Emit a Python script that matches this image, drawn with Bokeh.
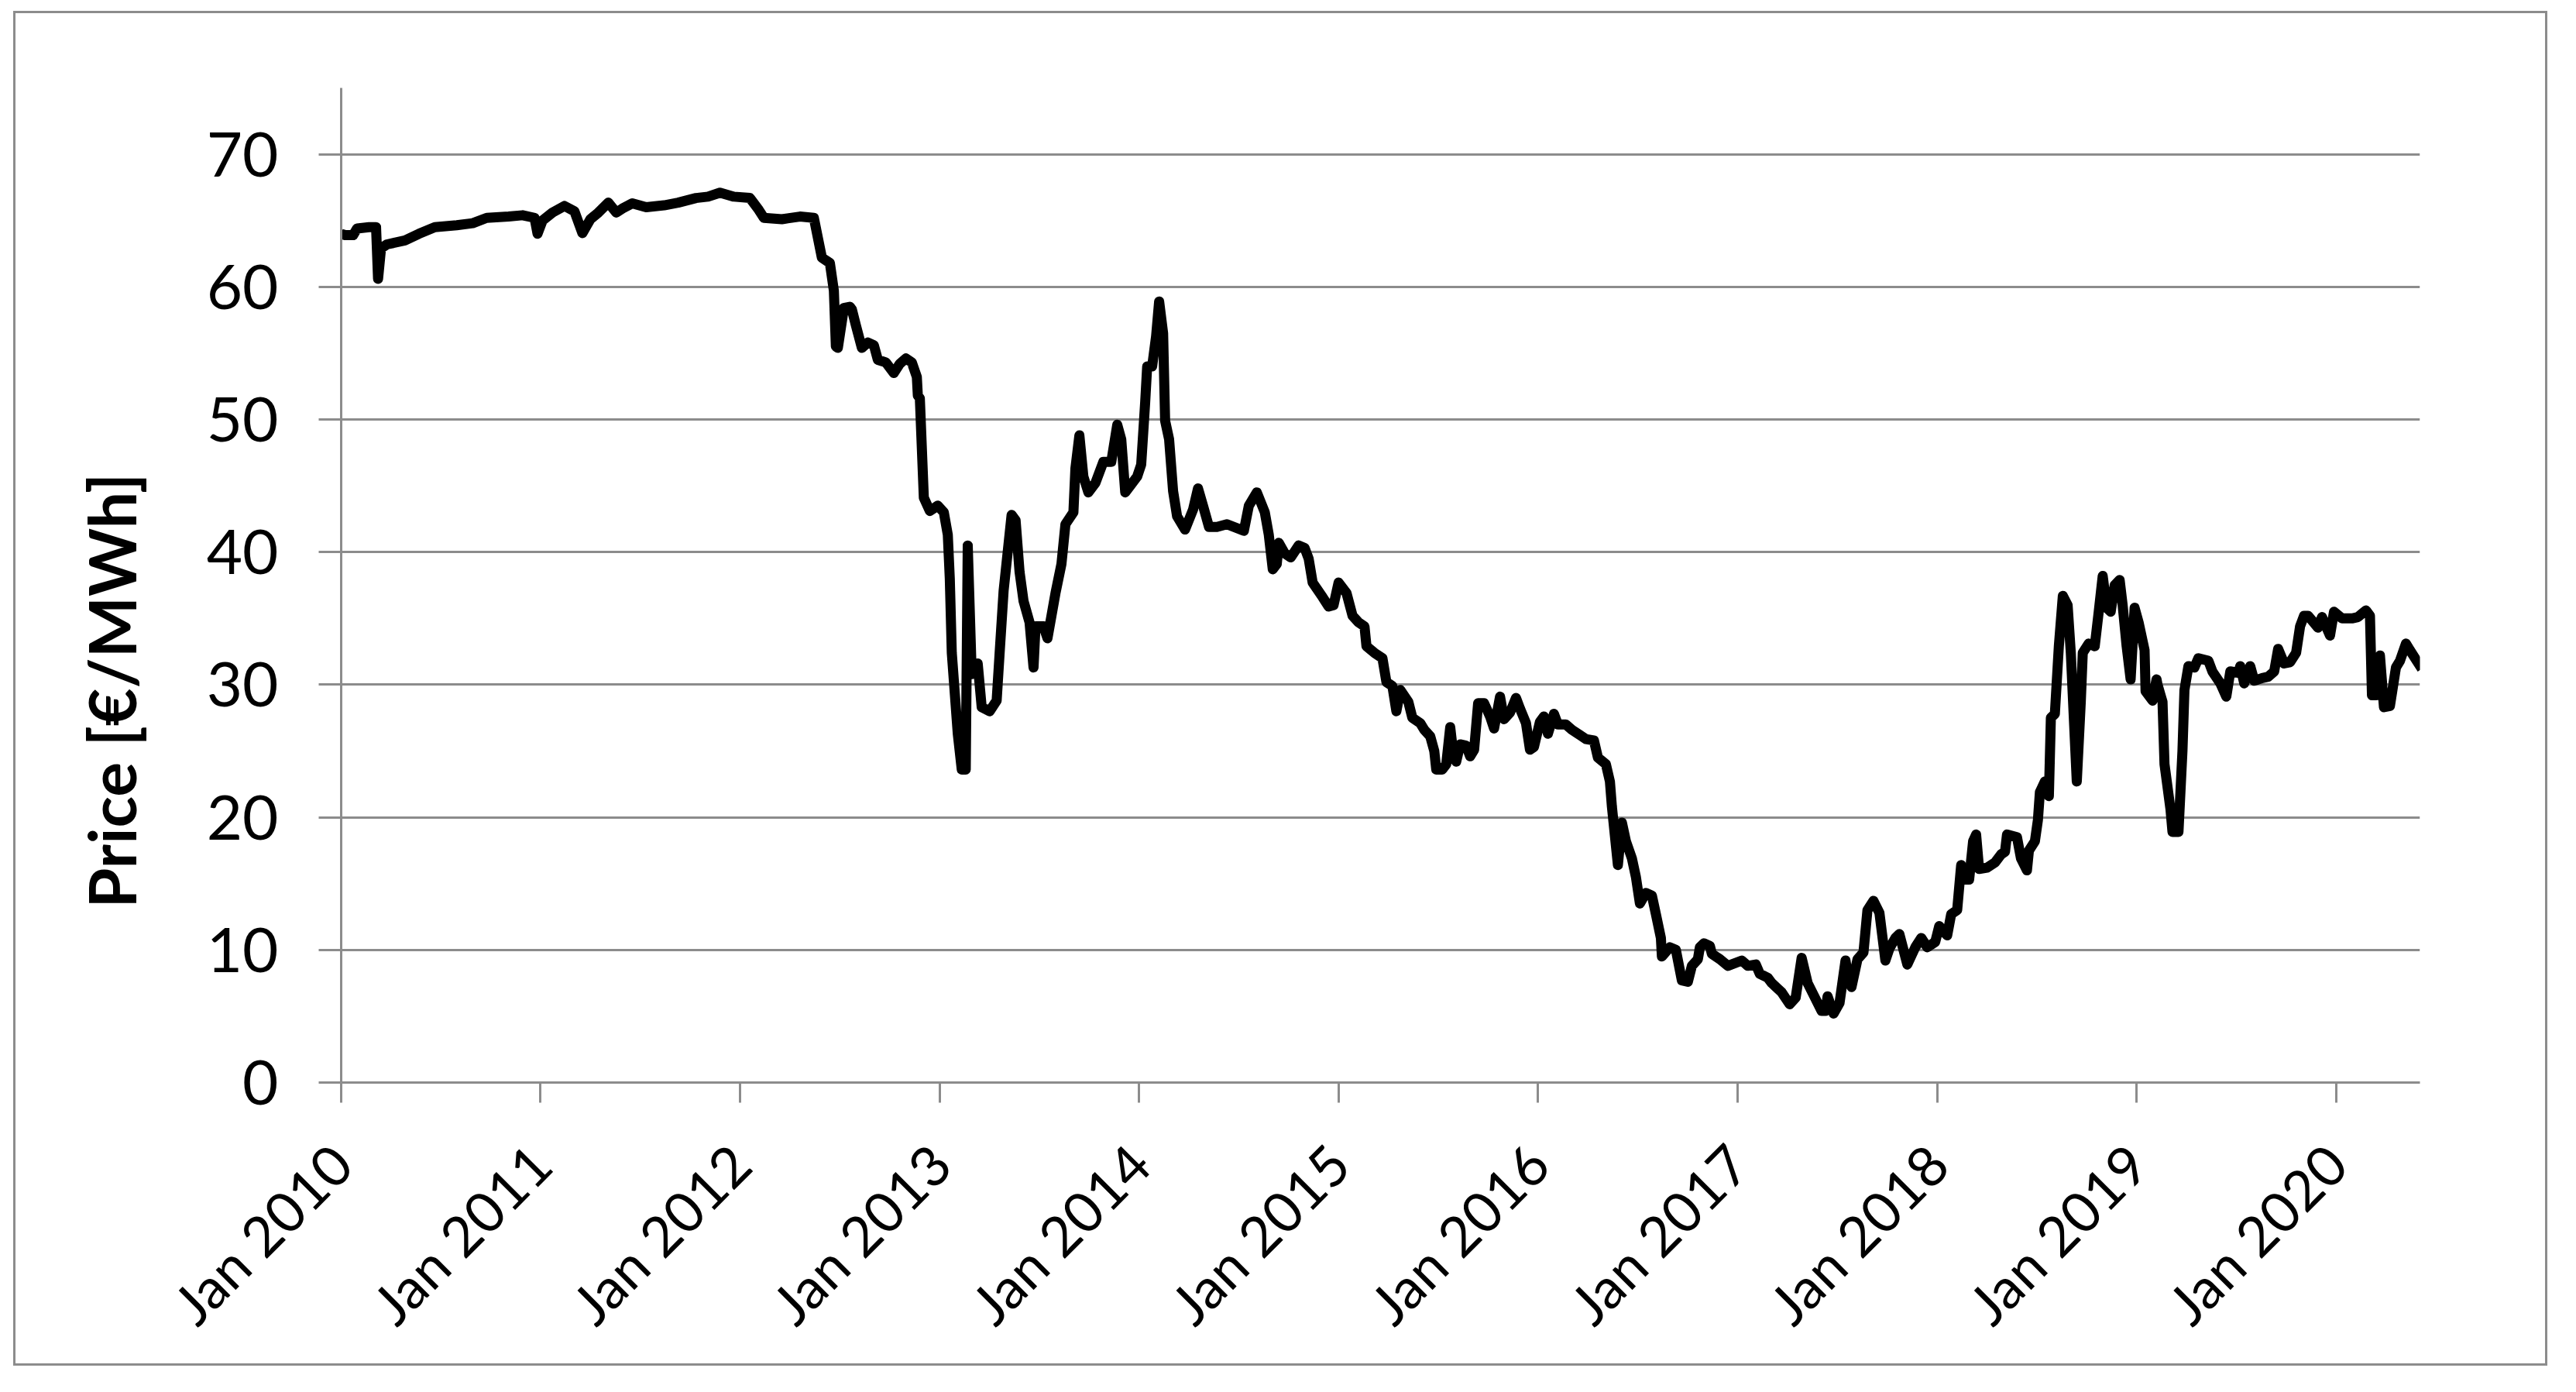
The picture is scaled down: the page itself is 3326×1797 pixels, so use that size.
import datetime
from math import pi
from bokeh.plotting import figure
from bokeh.models import FixedTicker, DatetimeTickFormatter, Range1d, Title
from bokeh.embed import file_html
from bokeh.resources import INLINE

# ---- data (decimal year, price in EUR/MWh) ----
years = [
    2010.00, 2010.02, 2010.06, 2010.08, 2010.14, 2010.175, 2010.185, 2010.20, 2010.23, 2010.32,
    2010.39, 2010.47, 2010.58, 2010.66, 2010.73, 2010.84, 2010.91, 2010.97, 2010.985, 2011.01,
    2011.06, 2011.12, 2011.17, 2011.21, 2011.25, 2011.29, 2011.34, 2011.38, 2011.41, 2011.46,
    2011.53, 2011.62, 2011.69, 2011.78, 2011.84, 2011.90, 2011.97, 2012.05, 2012.09, 2012.12,
    2012.21, 2012.30, 2012.37, 2012.39, 2012.41, 2012.45, 2012.47, 2012.48, 2012.49, 2012.52,
    2012.55, 2012.56, 2012.58, 2012.61, 2012.64, 2012.67, 2012.69, 2012.73, 2012.77, 2012.80,
    2012.83, 2012.86, 2012.885, 2012.89, 2012.90, 2012.92, 2012.95, 2012.99, 2013.02, 2013.04,
    2013.05, 2013.06, 2013.09, 2013.11, 2013.13, 2013.14, 2013.16, 2013.19, 2013.21, 2013.25,
    2013.285, 2013.30, 2013.32, 2013.36, 2013.38, 2013.40, 2013.42, 2013.45, 2013.47, 2013.48,
    2013.52, 2013.54, 2013.56, 2013.58, 2013.61, 2013.63, 2013.67, 2013.68, 2013.70, 2013.72,
    2013.745, 2013.78, 2013.82, 2013.86, 2013.89, 2013.91, 2013.93, 2013.955, 2013.99, 2014.01,
    2014.03, 2014.04, 2014.065, 2014.085, 2014.10, 2014.12, 2014.13, 2014.15, 2014.17, 2014.19,
    2014.23, 2014.27, 2014.295, 2014.32, 2014.35, 2014.39, 2014.44, 2014.525, 2014.55, 2014.59,
    2014.63, 2014.65, 2014.67, 2014.69, 2014.70, 2014.73, 2014.76, 2014.80, 2014.83, 2014.85,
    2014.87, 2014.92, 2014.95, 2014.975, 2015.00, 2015.04, 2015.07, 2015.10, 2015.13, 2015.14,
    2015.18, 2015.22, 2015.24, 2015.27, 2015.29, 2015.31, 2015.35, 2015.37, 2015.41, 2015.43,
    2015.46, 2015.48, 2015.49, 2015.52, 2015.54, 2015.56, 2015.57, 2015.59, 2015.61, 2015.64,
    2015.66, 2015.68, 2015.70, 2015.73, 2015.76, 2015.78, 2015.81, 2015.83, 2015.86, 2015.89,
    2015.91, 2015.94, 2015.96, 2015.98, 2016.01, 2016.03, 2016.05, 2016.08, 2016.10, 2016.14,
    2016.17, 2016.21, 2016.24, 2016.28, 2016.30, 2016.34, 2016.36, 2016.37, 2016.40, 2016.42,
    2016.44, 2016.47, 2016.49, 2016.51, 2016.54, 2016.57, 2016.59, 2016.615, 2016.62, 2016.66,
    2016.69, 2016.72, 2016.75, 2016.77, 2016.80, 2016.81, 2016.83, 2016.86, 2016.87, 2016.91,
    2016.95, 2017.02, 2017.05, 2017.09, 2017.11, 2017.15, 2017.17, 2017.22, 2017.26, 2017.29,
    2017.32, 2017.35, 2017.37, 2017.42, 2017.44, 2017.45, 2017.48, 2017.51, 2017.54, 2017.55,
    2017.57, 2017.60, 2017.63, 2017.65, 2017.68, 2017.71, 2017.74, 2017.76, 2017.79, 2017.81,
    2017.85, 2017.89, 2017.92, 2017.95, 2017.99, 2018.01, 2018.05, 2018.07, 2018.10, 2018.12,
    2018.14, 2018.16, 2018.18, 2018.195, 2018.21, 2018.25, 2018.29, 2018.32, 2018.34, 2018.35,
    2018.40, 2018.42, 2018.45, 2018.46, 2018.49, 2018.505, 2018.515, 2018.54, 2018.56, 2018.57,
    2018.59, 2018.61, 2018.63, 2018.654, 2018.67, 2018.70, 2018.72, 2018.73, 2018.76, 2018.79,
    2018.81, 2018.83, 2018.85, 2018.87, 2018.89, 2018.915, 2018.93, 2018.95, 2018.97, 2018.99,
    2019.01, 2019.04, 2019.045, 2019.08, 2019.10, 2019.105, 2019.13, 2019.14, 2019.17, 2019.18,
    2019.21, 2019.23, 2019.24, 2019.26, 2019.29, 2019.31, 2019.36, 2019.38, 2019.42, 2019.45,
    2019.47, 2019.51, 2019.52, 2019.54, 2019.57, 2019.59, 2019.63, 2019.66, 2019.69, 2019.71,
    2019.74, 2019.77, 2019.80, 2019.82, 2019.84, 2019.86, 2019.91, 2019.93, 2019.97, 2019.99,
    2020.03, 2020.08, 2020.11, 2020.15, 2020.17, 2020.18, 2020.20, 2020.22, 2020.24, 2020.27,
    2020.30, 2020.32, 2020.35, 2020.37, 2020.43,
]
prices = [
    64.0, 63.9, 63.9, 64.4, 64.5, 64.5, 60.6, 62.9, 63.2, 63.5,
    64.0, 64.5, 64.65, 64.8, 65.2, 65.3, 65.4, 65.2, 64.0, 65.0,
    65.6, 66.1, 65.7, 64.05, 65.1, 65.6, 66.35, 65.6, 65.9, 66.3,
    66.0, 66.15, 66.35, 66.7, 66.8, 67.1, 66.8, 66.7, 65.9, 65.2,
    65.1, 65.3, 65.2, 63.7, 62.2, 61.8, 59.7, 55.5, 55.4, 58.4,
    58.5, 58.3, 57.1, 55.4, 55.8, 55.6, 54.5, 54.3, 53.5, 54.2,
    54.6, 54.3, 53.2, 51.8, 51.6, 44.1, 43.1, 43.5, 43.0, 41.3,
    38.0, 32.4, 26.3, 23.6, 23.6, 40.5, 30.8, 31.6, 28.3, 28.0,
    28.8, 32.4, 37.1, 42.8, 42.4, 38.5, 36.3, 34.7, 31.3, 34.4,
    34.4, 33.5, 35.2, 36.9, 39.1, 42.1, 43.0, 46.3, 48.8, 45.7,
    44.5, 45.2, 46.8, 46.8, 49.6, 48.5, 44.5, 45.0, 45.7, 46.6,
    51.3, 54.0, 54.0, 56.3, 58.9, 56.5, 49.9, 48.5, 44.6, 42.7,
    41.7, 43.2, 44.8, 43.5, 41.9, 41.9, 42.1, 41.6, 43.5, 44.5,
    43.0, 41.3, 38.7, 39.1, 40.7, 39.9, 39.6, 40.5, 40.3, 39.5,
    37.7, 36.6, 35.9, 36.0, 37.7, 36.9, 35.2, 34.7, 34.4, 32.9,
    32.4, 32.0, 30.2, 29.9, 28.0, 29.6, 28.7, 27.5, 27.1, 26.6,
    26.1, 25.0, 23.6, 23.6, 24.0, 26.8, 25.5, 24.2, 25.5, 25.4,
    24.6, 25.1, 28.6, 28.6, 27.6, 26.7, 29.1, 27.4, 27.9, 29.0,
    28.2, 27.1, 25.1, 25.3, 27.2, 27.6, 26.3, 27.8, 27.0, 27.0,
    26.6, 26.2, 25.9, 25.8, 24.5, 24.0, 22.7, 20.8, 16.4, 19.6,
    18.2, 16.9, 15.5, 13.5, 14.3, 14.1, 12.7, 10.9, 9.5, 10.2,
    10.0, 7.7, 7.6, 8.8, 9.3, 10.2, 10.5, 10.3, 9.7, 9.3,
    8.8, 9.2, 8.8, 8.9, 8.2, 7.9, 7.5, 6.8, 5.9, 6.4,
    9.4, 7.5, 6.9, 5.4, 5.4, 6.5, 5.2, 6.0, 9.2, 8.2,
    7.2, 9.3, 9.8, 13.0, 13.7, 12.8, 9.2, 10.1, 10.9, 11.2,
    8.9, 10.2, 10.9, 10.2, 10.6, 11.8, 11.1, 12.7, 13.0, 16.4,
    15.3, 15.3, 18.2, 18.7, 16.1, 16.2, 16.6, 17.2, 17.4, 18.7,
    18.5, 16.9, 16.0, 17.5, 18.2, 19.8, 21.9, 22.7, 21.6, 27.5,
    27.8, 32.9, 36.7, 36.0, 32.4, 22.7, 28.7, 32.4, 33.1, 32.9,
    35.5, 38.2, 35.8, 35.5, 37.5, 37.9, 36.0, 32.9, 30.4, 35.8,
    34.7, 32.6, 29.5, 28.8, 30.4, 30.0, 28.7, 24.0, 20.6, 18.9,
    18.9, 25.0, 29.6, 31.4, 31.3, 32.0, 31.8, 31.0, 30.1, 29.1,
    31.0, 30.9, 31.4, 30.1, 31.4, 30.3, 30.5, 30.6, 31.0, 32.7,
    31.6, 31.7, 32.4, 34.4, 35.2, 35.2, 34.3, 35.1, 33.7, 35.5,
    35.0, 35.0, 35.1, 35.6, 35.2, 29.2, 29.2, 32.2, 28.3, 28.4,
    31.3, 31.8, 33.1, 32.6, 31.2,
]
tick_years = [2010, 2011, 2012, 2013, 2014, 2015, 2016, 2017, 2018, 2019, 2020]
y_ticks = [0, 10, 20, 30, 40, 50, 60, 70]
x_end_year = 2020.42
y_max = 75
y_title = "Price [€/MWh]"


def dec_to_dt(y):
    yi = int(y)
    start = datetime.datetime(yi, 1, 1)
    end = datetime.datetime(yi + 1, 1, 1)
    return start + (end - start) * (y - yi)


def to_ms(d):
    return (d - datetime.datetime(1970, 1, 1)).total_seconds() * 1000.0


dates = [dec_to_dt(v) for v in years]

GRAY = "#8c8c8c"
FONT = "Lato"

p = figure(
    width=3272, height=1749,
    x_axis_type="datetime",
    x_range=Range1d(dec_to_dt(2010.0), dec_to_dt(x_end_year)),
    y_range=Range1d(0, y_max),
    output_backend="svg", toolbar_location=None,
    min_border_left=420, min_border_right=168,
    min_border_top=96, min_border_bottom=369,
)
p.margin = (14, 0, 0, 17)
p.styles = {"border": "3px solid " + GRAY}
p.outline_line_color = None
p.background_fill_color = "white"
p.border_fill_color = "white"

p.line(dates, prices, line_color="black", line_width=13, line_join="round")

# axes
p.xaxis.ticker = FixedTicker(ticks=[to_ms(datetime.datetime(y, 1, 1)) for y in tick_years])
fmt = "%b %Y"
p.xaxis.formatter = DatetimeTickFormatter(
    years=fmt, months=fmt, days=fmt, hours=fmt, minutes=fmt, seconds=fmt,
    milliseconds=fmt, microseconds=fmt, hourmin=fmt, minsec=fmt)
p.xaxis.major_label_orientation = pi / 4
p.yaxis.ticker = FixedTicker(ticks=y_ticks)

for ax in (p.xaxis[0], p.yaxis[0]):
    ax.axis_line_color = GRAY
    ax.axis_line_width = 3
    ax.major_tick_line_color = GRAY
    ax.major_tick_line_width = 3
    ax.major_tick_in = 0
    ax.minor_tick_line_color = None
    ax.major_label_text_color = "black"
    ax.major_label_text_font = FONT

p.xaxis.major_tick_out = 26
p.xaxis.major_label_text_font_size = "72px"
p.xaxis.major_label_standoff = 66
p.yaxis.major_tick_out = 29
p.yaxis.major_label_text_font_size = "80px"
p.yaxis.major_label_standoff = 52

# y-axis title, placed lower than centre as in the reference
p.add_layout(Title(text=y_title, align="left", offset=225, standoff=140,
                   text_font=FONT, text_font_style="bold",
                   text_font_size="84px", text_color="black"), "left")

p.xgrid.grid_line_color = None
p.ygrid.grid_line_color = GRAY
p.ygrid.grid_line_width = 3

open("out.html", "w").write(file_html(p, INLINE))
